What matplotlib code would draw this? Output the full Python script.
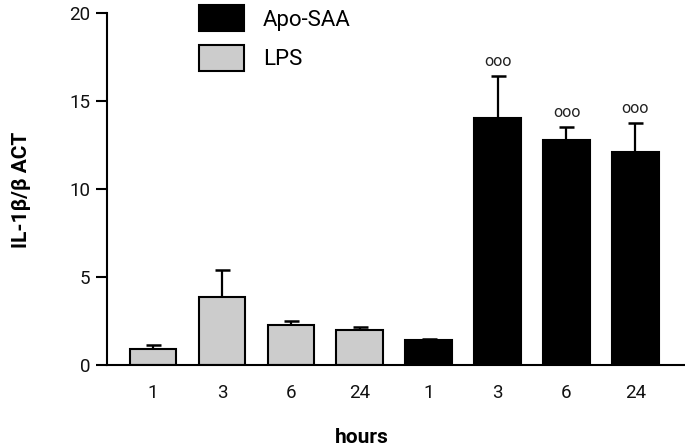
import matplotlib.pyplot as plt
from matplotlib.patches import Patch
import numpy as np

plt.rcParams['font.family'] = ['Roboto', 'DejaVu Sans']

hours = ['1', '3', '6', '24', '1', '3', '6', '24']
groups = ['LPS', 'LPS', 'LPS', 'LPS', 'Apo-SAA', 'Apo-SAA', 'Apo-SAA', 'Apo-SAA']
means = [0.87, 3.83, 2.25, 1.98, 1.42, 14.02, 12.78, 12.06]
errs = [0.26, 1.57, 0.25, 0.16, 0.03, 2.38, 0.74, 1.68]
signif = ['', '', '', '', '', 'ooo', 'ooo', 'ooo']

colors = {'LPS': '#cccccc', 'Apo-SAA': '#000000'}

fig = plt.figure(figsize=(6.85, 4.47), dpi=100)
ax = fig.add_axes([107/685, 1-364.7/447, 1-107/685, 352/447])

x = np.arange(len(hours))
bar_colors = [colors[g] for g in groups]
ax.bar(x, means, width=0.675, color=bar_colors, edgecolor='black', linewidth=1.5, zorder=2)
ax.errorbar(x, means, yerr=[np.zeros(len(errs)), errs], fmt='none', ecolor='black',
            elinewidth=1.6, capsize=5.4, capthick=1.8, zorder=1)

for xi, m, e, s in zip(x, means, errs, signif):
    if s:
        ax.text(xi, m + e + 0.4, s, ha='center', va='bottom', fontsize=11.5,
                color='#222222')

ax.set_xlim(-0.667, 7.72)
ax.set_ylim(0, 20)
ax.set_yticks([0, 5, 10, 15, 20])
ax.set_xticks(x)
ax.set_xticklabels(hours)
ax.tick_params(axis='x', length=0, pad=14, labelsize=13.5, labelcolor='#111111')
ax.tick_params(axis='y', length=8, width=1.5, labelsize=13.5, pad=4, labelcolor='#111111')
for sp in ['top', 'right']:
    ax.spines[sp].set_visible(False)
for sp in ['left', 'bottom']:
    ax.spines[sp].set_linewidth(1.5)

ax.set_ylabel('IL-1β/β ACT', fontsize=15, fontweight='bold')
ax.yaxis.set_label_coords(-0.148, 0.496)
ax.yaxis.label.set_va('center')
ax.set_xlabel('hours', fontsize=15, fontweight='bold')
ax.xaxis.set_label_coords(0.441, -0.207)
ax.xaxis.label.set_va('center')

handles = [Patch(facecolor='#000000', edgecolor='black', linewidth=1.5, label='Apo-SAA'),
           Patch(facecolor='#cccccc', edgecolor='black', linewidth=1.5, label='LPS')]
ax.legend(handles=handles, loc='upper left', bbox_to_anchor=(0.159, 1.022), frameon=False,
          borderpad=0, borderaxespad=0, fontsize=16, handlelength=2.03, handleheight=1.45,
          labelspacing=0.6, handletextpad=0.86)

fig.savefig('out.png', dpi=100)
